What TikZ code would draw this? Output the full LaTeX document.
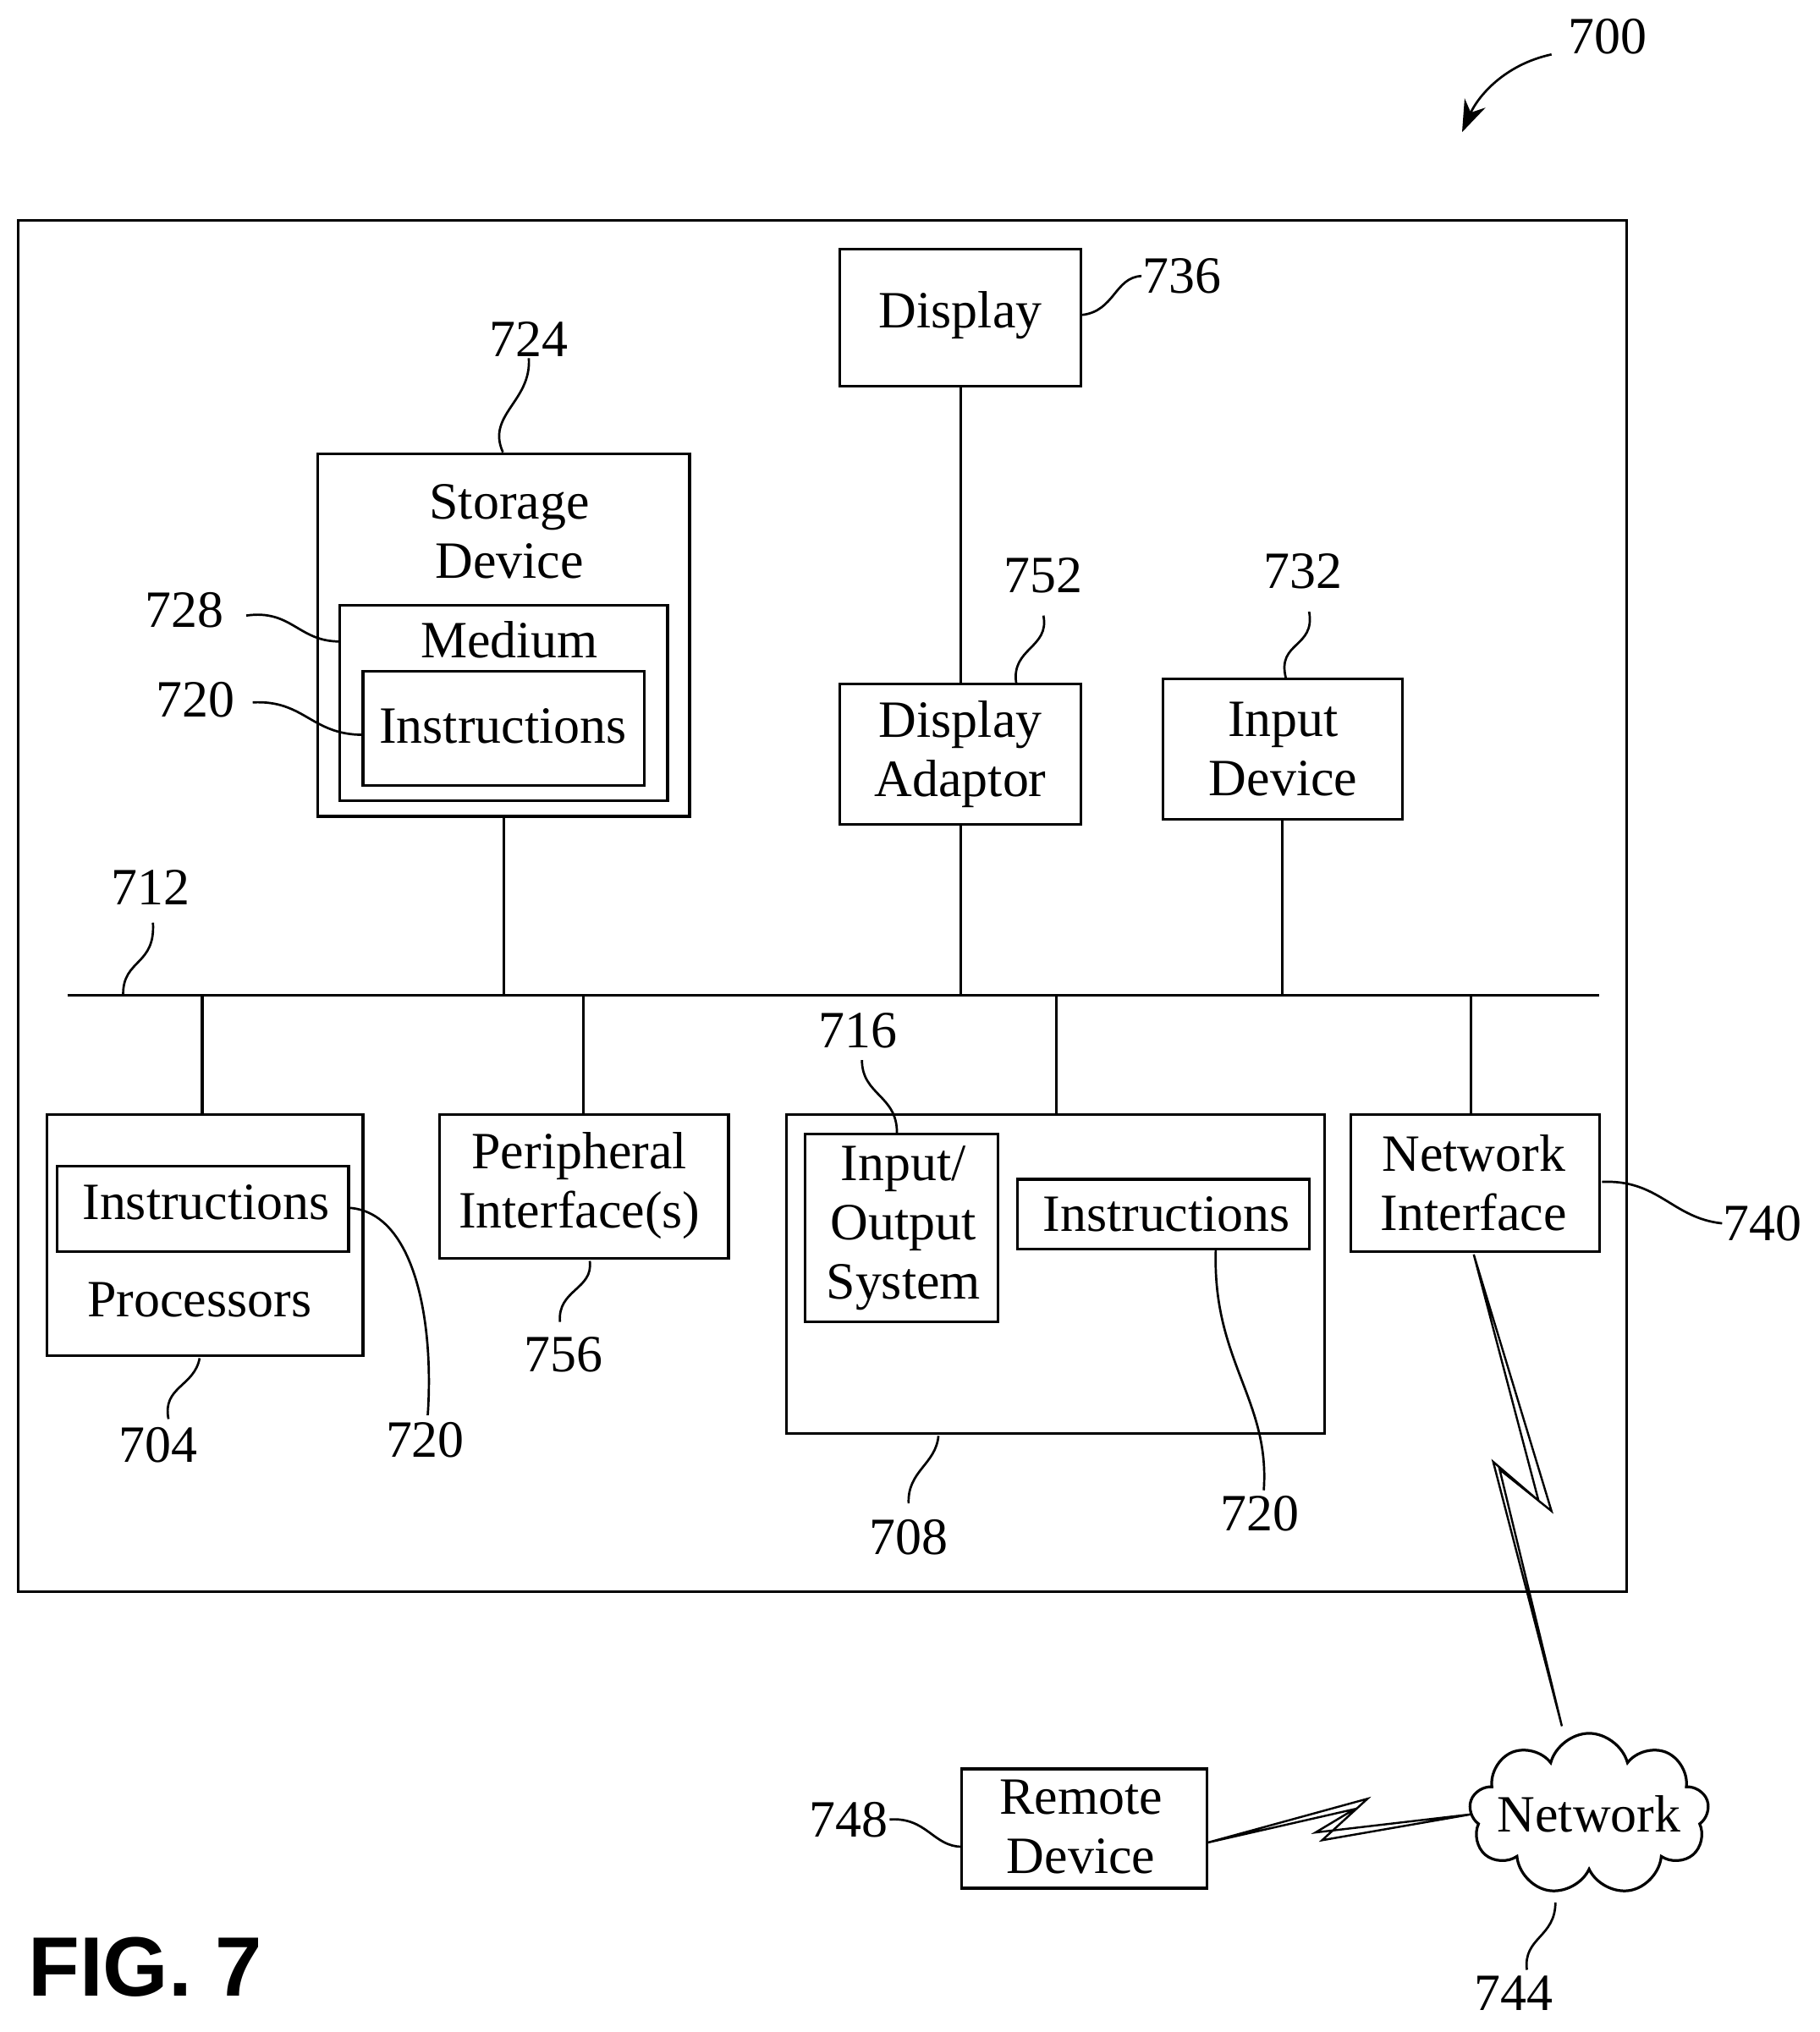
\documentclass[tikz,border=0pt]{standalone}
\usepackage{fontspec}
\setmainfont{Liberation Serif}
\newfontfamily\figfont{Liberation Sans}
\usetikzlibrary{fit,shapes.symbols,arrows.meta}
\begin{document}
\begin{tikzpicture}[x=0.02cm,y=-0.02cm,line width=1.2pt,
 box/.style={draw,inner sep=0pt},
 txt/.style={font=\fontsize{23}{26}\selectfont,align=center,inner sep=0pt},
 lab/.style={font=\fontsize{23}{26}\selectfont,inner sep=0pt},
 ld/.style={line width=1pt}]
\useasboundingbox (0,0) rectangle (1404,1568);
\node[box,fit={(14,170)(1255,1228)}] (outer) {};
% Display
\node[box,fit={(648,192)(834,298)}] (disp) {};
\node[txt] (tdisp) at (741,243) {Display};
\node[lab] (l736) at (912,213) {736};
\draw[ld] (835,243) .. controls (860,240) and (860,214) .. (l736.west);
% Storage
\node[box,fit={(245,350)(532,630)}] (stor) {};
\node[txt] (tstor) at (393,410) {Storage\\Device};
\node[box,fit={(262,467)(515,618)}] (med) {};
\node[txt] (tmed) at (393,494) {Medium};
\node[box,fit={(280,518)(497,606)}] (sins) {};
\node[txt] (tsins) at (388,560) {Instructions};
\node[lab] (l724) at (408,262) {724};
\draw[ld] (388,349) .. controls (375,320) and (410,310) .. (l724.south);
\node[lab] (l728) at (142,471) {728};
\draw[ld] (190,475) .. controls (225,470) and (230,495) .. (262,495);
\node[lab] (l720a) at (151,540) {720};
\draw[ld] (195,542) .. controls (235,540) and (240,567) .. (280,567);
% Display adaptor
\node[box,fit={(648,528)(834,636)}] (dada) {};
\node[txt] (tdada) at (741,582) {Display\\Adaptor};
\node[lab] (l752) at (805,444) {752};
\draw[ld] (784,527) .. controls (780,500) and (810,500) .. (805,475);
% Input device
\node[box,fit={(897,524)(1082,632)}] (indev) {};
\node[txt] (tindev) at (990,578) {Input\\Device};
\node[lab] (l732) at (1005,441) {732};
\draw[ld] (992,523) .. controls (985,495) and (1015,500) .. (1010,472);
% bus
\coordinate (busL) at (52,768); \coordinate (busR) at (1234,768);
\draw (busL) -- (busR);
\node[lab] (l712) at (116,685) {712};
\draw[ld] (95,767) .. controls (95,740) and (120,745) .. (118,712);
\draw (stor.south) -- (stor.south |- busL);
\draw (disp.south) -- (dada.north);
\draw (dada.south) -- (dada.south |- busL);
\draw (indev.south) -- (indev.south |- busL);
% processors
\node[box,fit={(36,860)(280,1046)}] (proc) {};
\node[box,fit={(44,900)(269,966)}] (pins) {};
\node[txt] (tpins) at (159,928) {Instructions};
\node[txt] (tproc) at (154,1003) {Processors};
\draw (156,768) -- (156,860);
\node[lab] (l704) at (122,1115) {704};
\draw[ld] (154,1048) .. controls (150,1070) and (125,1070) .. (130,1095);
\node[lab] (l720b) at (328,1111) {720};
\draw[ld] (269,932) .. controls (320,935) and (335,1020) .. (330,1092);
% peripheral
\node[box,fit={(339,860)(562,971)}] (peri) {};
\node[txt] (tperi) at (447,915) {Peripheral\\Interface(s)};
\draw (450,768) -- (450,860);
\node[lab] (l756) at (435,1045) {756};
\draw[ld] (455,973) .. controls (458,995) and (430,995) .. (432,1020);
% IO
\node[box,fit={(607,860)(1022,1106)}] (io) {};
\node[box,fit={(621,875)(770,1020)}] (ios) {};
\node[txt] (tios) at (697,948) {Input/\\Output\\System};
\node[box,fit={(785,910)(1010,964)}] (ioi) {};
\node[txt] (tioi) at (900,937) {Instructions};
\draw (815,768) -- (815,860);
\node[lab] (l716) at (662,795) {716};
\draw[ld] (692,874) .. controls (692,845) and (665,845) .. (665,818);
\node[lab] (l720c) at (972,1168) {720};
\draw[ld] (938,964) .. controls (935,1050) and (980,1080) .. (975,1150);
\node[lab] (l708) at (701,1186) {708};
\draw[ld] (724,1108) .. controls (722,1130) and (700,1135) .. (701,1160);
% network interface
\node[box,fit={(1042,860)(1234,966)}] (nif) {};
\node[txt] (tnif) at (1137,913) {Network\\Interface};
\draw (1135,768) -- (1135,860);
\node[lab] (l740) at (1360,944) {740};
\draw[ld] (1236,912) .. controls (1280,910) and (1290,940) .. (l740.west);
% network cloud
\node[cloud,draw,cloud puffs=9,aspect=1.5,minimum width=3.7cm,minimum height=2.5cm,inner sep=0pt] (net) at (1226,1400) {};
\node[txt] (tnet) at (1226,1400) {Network};
\node[lab] (l744) at (1168,1538) {744};
\draw[ld] (1200,1468) .. controls (1200,1495) and (1175,1495) .. (1178,1520);
\draw[line width=0.9pt,line join=miter] (1137,968) -- (1197,1166) -- (1157,1134) -- (1205,1332) -- (1152,1128) -- (1187,1158) -- cycle;
% remote device
\node[box,fit={(742,1365)(931,1457)}] (rem) {};
\node[txt] (trem) at (834,1410) {Remote\\Device};
\node[lab] (l748) at (655,1404) {748};
\draw[ld] (l748.east) .. controls (715,1402) and (720,1425) .. (742,1425);
\draw[line width=0.9pt,line join=miter] (931,1422) -- (1055,1388) -- (1020,1420) -- (1135,1400) -- (1015,1414) -- (1045,1396) -- cycle;
% 700
\node[lab] (l700) at (1240,28) {700};
\draw[ld,-{Stealth[length=14pt,width=10pt]}] (1197,42) .. controls (1160,50) and (1140,75) .. (1128,102);
\node[font=\figfont\bfseries\fontsize{37}{40}\selectfont,inner sep=0pt] (fig) at (112,1518) {FIG. 7};
\end{tikzpicture}
\end{document}
